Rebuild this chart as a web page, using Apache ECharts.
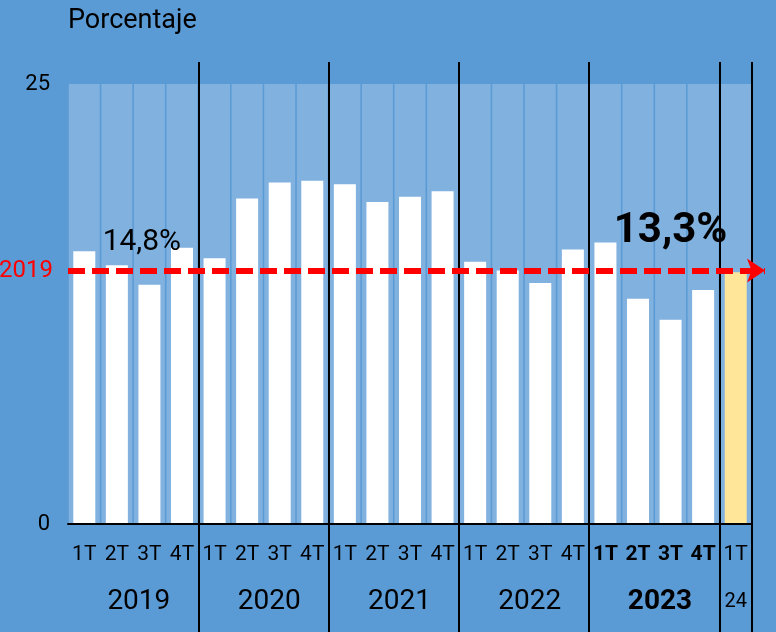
<!DOCTYPE html>
<html>
<head>
<meta charset="utf-8">
<script src="https://cdn.jsdelivr.net/npm/echarts@6/dist/echarts.min.js"></script>
<style>
  html, body { margin: 0; padding: 0; background: #5B9BD5; }
  #chart { width: 776px; height: 632px; }
</style>
</head>
<body>
<div id="chart"></div>
<script>
// years shown under the axis (the last one is only the first quarter of 2024)
const years = ['2019', '2020', '2021', '2022', '2023', '24'];
const quarters = ['1T', '2T', '3T', '4T', '1T', '2T', '3T', '4T', '1T', '2T', '3T', '4T',
                  '1T', '2T', '3T', '4T', '1T', '2T', '3T', '4T', '1T'];
const quarterYear = [0, 0, 0, 0, 1, 1, 1, 1, 2, 2, 2, 2, 3, 3, 3, 3, 4, 4, 4, 4, 5];
// percentage per quarter
const values = [15.5, 14.7, 13.6, 15.7, 15.1, 18.5, 19.4, 19.5, 19.3, 18.3, 18.6, 18.9,
                14.9, 14.4, 13.7, 15.6, 16.0, 12.8, 11.6, 13.3, 14.3];
const ref2019 = 14.4;
const axisMax = 25;
const note2019 = '14,8%';
const note2023 = '13,3%';

const categories = quarters.map((q, i) => years[quarterYear[i]] + ' ' + q);
const boldYear = 4;
const lastIdx = values.length - 1;

function isYearStart(i) {
    return i > 0 && i % 4 === 0;
}

const chart = echarts.init(document.getElementById('chart'));
const option = {
    backgroundColor: '#5B9BD5',
    animation: false,
    textStyle: { fontFamily: 'Roboto' },
    title: {
        text: 'Porcentaje',
        left: 68,
        top: 8,
        padding: 0,
        textStyle: { fontSize: 27, fontWeight: 'normal', color: '#000', fontFamily: 'Roboto' }
    },
    grid: [
        { left: 68, right: 24, top: 84, bottom: 108 },
        { left: 68, right: 11, top: 84, bottom: 108 }
    ],
    xAxis: [{
        type: 'category',
        gridIndex: 0,
        data: categories,
        z: 3,
        axisLine: { lineStyle: { color: '#000', width: 2 } },
        axisTick: { show: false },
        splitLine: { show: true, interval: isYearStart, lineStyle: { color: '#000', width: 2 } },
        axisLabel: {
            interval: 0,
            margin: 19,
            color: '#000',
            fontSize: 21,
            lineHeight: 24,
            formatter: function (v, i) {
                return quarterYear[i] === boldYear ? '{b|' + quarters[i] + '}' : quarters[i];
            },
            rich: {
                b: { fontSize: 21, lineHeight: 24, fontWeight: 'bold', color: '#000' }
            }
        }
    }, {
        type: 'category',
        gridIndex: 0,
        position: 'bottom',
        data: categories,
        z: 3,
        axisLine: { show: false },
        axisTick: { show: true, interval: isYearStart, length: 108, lineStyle: { color: '#000', width: 2 } },
        axisLabel: {
            interval: 0,
            margin: 62,
            color: '#000',
            formatter: function (v, i) {
                const y = quarterYear[i];
                if (y === years.length - 1) return '{s|' + years[y] + '}';
                if (i % 4 !== 1) return '';
                return (y === boldYear ? '{yb|' : '{y|') + years[y] + '}';
            },
            rich: {
                y: { fontSize: 28, lineHeight: 32, color: '#000', padding: [0, 0, 0, 44] },
                yb: { fontSize: 28, lineHeight: 32, color: '#000', fontWeight: 'bold', padding: [0, 0, 0, 44] },
                s: { fontSize: 20, lineHeight: 32, color: '#000' }
            }
        }
    }, {
        type: 'category',
        gridIndex: 0,
        position: 'top',
        data: categories,
        z: 3,
        axisLine: { show: false },
        axisLabel: { show: false },
        axisTick: { show: true, interval: isYearStart, length: 22, lineStyle: { color: '#000', width: 2 } }
    }, {
        type: 'value',
        gridIndex: 1,
        min: 0,
        max: 1,
        show: false
    }],
    yAxis: [{
        type: 'value',
        gridIndex: 0,
        min: 0,
        max: axisMax,
        interval: axisMax,
        axisLine: { show: false },
        axisTick: { show: false },
        splitLine: { show: false },
        axisLabel: { fontSize: 22, color: '#000', margin: 18 }
    }, {
        type: 'value',
        gridIndex: 1,
        min: 0,
        max: axisMax,
        show: false
    }],
    series: [{
        // light columns behind each quarter
        type: 'bar',
        xAxisIndex: 1,
        yAxisIndex: 0,
        silent: true,
        barWidth: 31,
        z: 1,
        itemStyle: { color: '#80B1DF' },
        data: categories.map(() => axisMax)
    }, {
        type: 'bar',
        xAxisIndex: 0,
        yAxisIndex: 0,
        barWidth: 22,
        z: 2,
        itemStyle: {
            color: function (p) {
                return p.dataIndex === lastIdx ? '#FFE699' : '#FFFFFF';
            }
        },
        markPoint: {
            symbol: 'circle',
            symbolSize: 0,
            silent: true,
            label: { show: true, position: 'inside', color: '#000', formatter: '{b}' },
            data: [
                { name: note2019, coord: [categories[1], 16.0], label: { fontSize: 30, offset: [25, 0] } },
                { name: note2023, coord: [categories[18], 16.6], label: { fontSize: 42, fontWeight: 'bold' } }
            ]
        },
        data: values
    }, {
        // dashed 2019 reference with arrow
        type: 'line',
        xAxisIndex: 3,
        yAxisIndex: 1,
        z: 5,
        data: [],
        markLine: {
            silent: true,
            symbol: ['none', 'arrow'],
            symbolSize: [18, 18],
            lineStyle: { color: '#FF0000', width: 6, type: [17, 7] },
            label: { show: true, position: 'start', formatter: '2019', color: '#FF0000', fontSize: 24, distance: 15 },
            data: [{ yAxis: ref2019 }]
        }
    }]
};
chart.setOption(option);
</script>
</body>
</html>
